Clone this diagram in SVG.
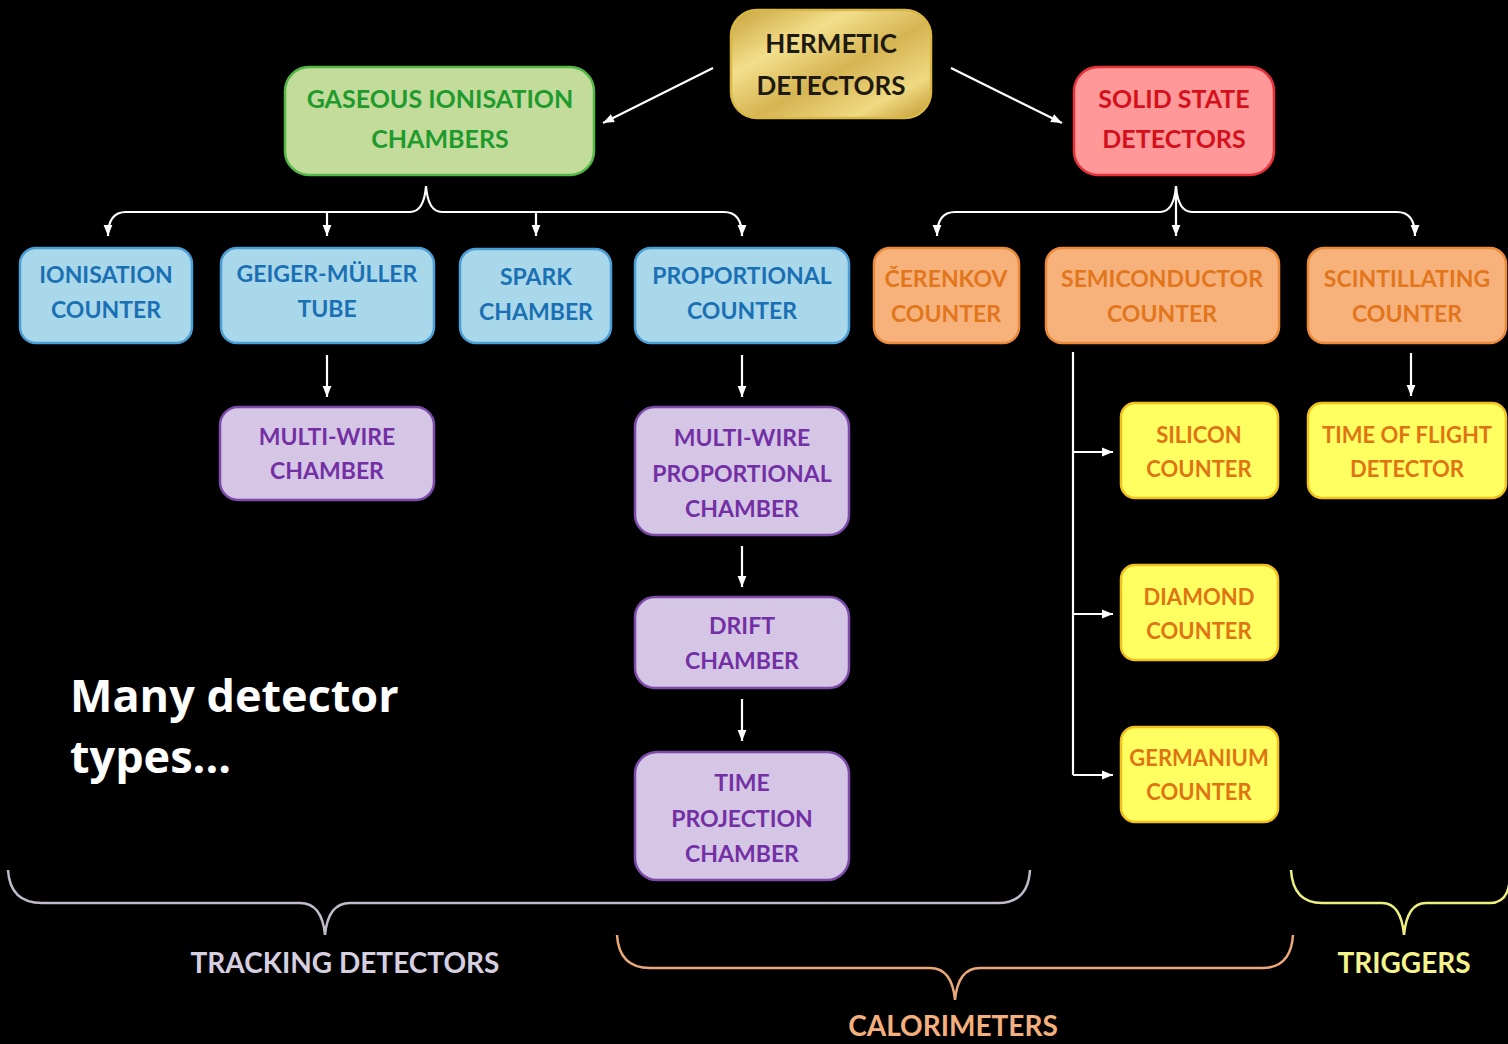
<svg xmlns="http://www.w3.org/2000/svg" width="1508" height="1044" viewBox="0 0 1508 1044">
  <defs>
    <linearGradient id="gold" x1="0" y1="0" x2="1" y2="1">
      <stop offset="0" stop-color="#c9a33c"/>
      <stop offset="0.3" stop-color="#f2df8c"/>
      <stop offset="0.55" stop-color="#d6b452"/>
      <stop offset="0.8" stop-color="#efd982"/>
      <stop offset="1" stop-color="#c29a30"/>
    </linearGradient>
    <marker id="arrow" viewBox="0 0 10 10" refX="10" refY="5" markerWidth="11" markerHeight="11" markerUnits="userSpaceOnUse" orient="auto-start-reverse">
      <path d="M0,1 L10,5 L0,9 z" fill="#ffffff"/>
    </marker>
    <style>
      .lbl { font-family: Lato, Carlito, "Liberation Sans", sans-serif; font-weight: bold; text-anchor: middle; }
      .box { stroke-width: 2.5; }
      .gold rect { fill: url(#gold); stroke: #d9b846; }
      .gold text { fill: #1e1a10; font-size: 26px; }
      .green rect { fill: #c3dc9c; stroke: #54b845; }
      .green text { fill: #1f9a2c; font-size: 25px; }
      .red rect { fill: #ff9898; stroke: #e8323a; }
      .red text { fill: #d3101c; font-size: 25px; }
      .blue rect { fill: #a9d8ea; stroke: #4c9fd6; }
      .blue text { fill: #1b70b4; font-size: 23px; }
      .orange rect { fill: #f7b27c; stroke: #ea8a3a; }
      .orange text { fill: #e2761c; font-size: 23px; }
      .purple rect { fill: #d6c6e6; stroke: #7c4aa8; }
      .purple text { fill: #7330a4; font-size: 23px; }
      .yellow rect { fill: #ffff62; stroke: #f3c11c; }
      .yellow text { fill: #df7413; font-size: 22px; }
      .conn { fill: none; stroke: #ffffff; stroke-width: 2.2; }
      .brace { fill: none; stroke-width: 2.5; }
      .group-lbl { font-family: Lato, Carlito, "Liberation Sans", sans-serif; font-weight: bold; text-anchor: middle; font-size: 28px; }
      .headline { font-family: "Open Sans", "Noto Sans", sans-serif; font-weight: bold; font-size: 45px; fill: #ffffff; }
    </style>
  </defs>

  <rect x="0" y="0" width="1508" height="1044" fill="#000000"/>

  <!-- Top level -->
  <g id="hermetic" class="gold lbl">
    <rect class="box" x="731" y="10" width="200" height="108" rx="26"/>
    <text x="831" y="53">HERMETIC</text>
    <text x="831" y="95">DETECTORS</text>
  </g>
  <g id="gaseous" class="green lbl">
    <rect class="box" x="285" y="67" width="309" height="108" rx="24"/>
    <text x="440" y="108">GASEOUS IONISATION</text>
    <text x="440" y="148">CHAMBERS</text>
  </g>
  <g id="solid-state" class="red lbl">
    <rect class="box" x="1074" y="67" width="200" height="108" rx="24"/>
    <text x="1174" y="108">SOLID STATE</text>
    <text x="1174" y="148">DETECTORS</text>
  </g>

  <!-- Gaseous chamber family -->
  <g id="ionisation-counter" class="blue lbl">
    <rect class="box" x="20" y="248" width="172" height="95" rx="16"/>
    <text x="106" y="283">IONISATION</text>
    <text x="106" y="318">COUNTER</text>
  </g>
  <g id="geiger-muller" class="blue lbl">
    <rect class="box" x="221" y="248" width="213" height="95" rx="16"/>
    <text x="327" y="282">GEIGER-MÜLLER</text>
    <text x="327" y="317">TUBE</text>
  </g>
  <g id="spark-chamber" class="blue lbl">
    <rect class="box" x="460" y="249" width="151" height="94" rx="16"/>
    <text x="536" y="285">SPARK</text>
    <text x="536" y="320">CHAMBER</text>
  </g>
  <g id="proportional-counter" class="blue lbl">
    <rect class="box" x="635" y="248" width="214" height="95" rx="16"/>
    <text x="742" y="284">PROPORTIONAL</text>
    <text x="742" y="319">COUNTER</text>
  </g>
  <g id="multi-wire" class="purple lbl">
    <rect class="box" x="220" y="407" width="214" height="93" rx="18"/>
    <text x="327" y="445">MULTI-WIRE</text>
    <text x="327" y="479">CHAMBER</text>
  </g>
  <g id="mwpc" class="purple lbl">
    <rect class="box" x="635" y="407" width="214" height="128" rx="20"/>
    <text x="742" y="446">MULTI-WIRE</text>
    <text x="742" y="482">PROPORTIONAL</text>
    <text x="742" y="517">CHAMBER</text>
  </g>
  <g id="drift-chamber" class="purple lbl">
    <rect class="box" x="635" y="597" width="214" height="91" rx="20"/>
    <text x="742" y="634">DRIFT</text>
    <text x="742" y="669">CHAMBER</text>
  </g>
  <g id="tpc" class="purple lbl">
    <rect class="box" x="635" y="752" width="214" height="128" rx="22"/>
    <text x="742" y="791">TIME</text>
    <text x="742" y="827">PROJECTION</text>
    <text x="742" y="862">CHAMBER</text>
  </g>

  <!-- Solid state family -->
  <g id="cerenkov" class="orange lbl">
    <rect class="box" x="874" y="248" width="145" height="95" rx="16"/>
    <text x="946" y="287">ČERENKOV</text>
    <text x="946" y="322">COUNTER</text>
  </g>
  <g id="semiconductor" class="orange lbl">
    <rect class="box" x="1046" y="248" width="233" height="95" rx="16"/>
    <text x="1162" y="287">SEMICONDUCTOR</text>
    <text x="1162" y="322">COUNTER</text>
  </g>
  <g id="scintillating" class="orange lbl">
    <rect class="box" x="1308" y="248" width="198" height="95" rx="16"/>
    <text x="1407" y="287">SCINTILLATING</text>
    <text x="1407" y="322">COUNTER</text>
  </g>
  <g id="silicon" class="yellow lbl">
    <rect class="box" x="1121" y="403" width="157" height="95" rx="14"/>
    <text x="1199" y="443">SILICON</text>
    <text x="1199" y="477">COUNTER</text>
  </g>
  <g id="time-of-flight" class="yellow lbl">
    <rect class="box" x="1308" y="403" width="198" height="95" rx="14"/>
    <text x="1407" y="443">TIME OF FLIGHT</text>
    <text x="1407" y="477">DETECTOR</text>
  </g>
  <g id="diamond" class="yellow lbl">
    <rect class="box" x="1121" y="565" width="157" height="95" rx="14"/>
    <text x="1199" y="605">DIAMOND</text>
    <text x="1199" y="639">COUNTER</text>
  </g>
  <g id="germanium" class="yellow lbl">
    <rect class="box" x="1121" y="727" width="157" height="95" rx="14"/>
    <text x="1199" y="766">GERMANIUM</text>
    <text x="1199" y="800">COUNTER</text>
  </g>

  <!-- Connectors -->
  <g id="connectors">
    <path class="conn" d="M713,68 L603,123" marker-end="url(#arrow)"/>
    <path class="conn" d="M951,68 L1062,123" marker-end="url(#arrow)"/>
    <!-- split under the gaseous chambers -->
    <path class="conn" d="M108,236 Q108,212 126,212 L410,212 Q424,212 426,186 Q428,212 442,212 L724,212 Q742,212 742,236" marker-start="url(#arrow)" marker-end="url(#arrow)"/>
    <path class="conn" d="M327,212 L327,236" marker-end="url(#arrow)"/>
    <path class="conn" d="M536,212 L536,236" marker-end="url(#arrow)"/>
    <!-- split under the solid state detectors -->
    <path class="conn" d="M937,236 Q937,212 955,212 L1160,212 Q1174,212 1176,186 Q1178,212 1192,212 L1397,212 Q1415,212 1415,236" marker-start="url(#arrow)" marker-end="url(#arrow)"/>
    <path class="conn" d="M1176,186 L1176,236" marker-end="url(#arrow)"/>
    <!-- vertical chains -->
    <path class="conn" d="M327,355 L327,397" marker-end="url(#arrow)"/>
    <path class="conn" d="M742,355 L742,397" marker-end="url(#arrow)"/>
    <path class="conn" d="M742,546 L742,587" marker-end="url(#arrow)"/>
    <path class="conn" d="M742,699 L742,741" marker-end="url(#arrow)"/>
    <path class="conn" d="M1411,353 L1411,396" marker-end="url(#arrow)"/>
    <!-- semiconductor branches -->
    <path class="conn" d="M1073,352 L1073,775"/>
    <path class="conn" d="M1073,452 L1113,452" marker-end="url(#arrow)"/>
    <path class="conn" d="M1073,614 L1113,614" marker-end="url(#arrow)"/>
    <path class="conn" d="M1073,775 L1113,775" marker-end="url(#arrow)"/>
  </g>

  <!-- Category braces -->
  <g id="tracking-brace">
    <path class="brace" stroke="#c2bacb" d="M8,870 Q10,903 42,903 L300,903 Q322,903 325,935 Q328,903 350,903 L998,903 Q1028,903 1030,870"/>
    <text class="group-lbl" x="345" y="973" fill="#d6cfe0">TRACKING DETECTORS</text>
  </g>
  <g id="calorimeter-brace">
    <path class="brace" stroke="#eaa878" d="M617,935 Q619,968 650,968 L930,968 Q952,968 955,1000 Q958,968 980,968 L1262,968 Q1291,968 1293,935"/>
    <text class="group-lbl" x="953" y="1036" fill="#f3b07c">CALORIMETERS</text>
  </g>
  <g id="trigger-brace">
    <path class="brace" stroke="#eef07e" d="M1291,870 Q1293,903 1322,903 L1382,903 Q1401,903 1404,935 Q1407,903 1426,903 L1490,903 Q1506,903 1509,885"/>
    <text class="group-lbl" x="1404" y="973" fill="#f5f48c">TRIGGERS</text>
  </g>

  <text class="headline" x="70" y="712">Many detector</text>
  <text class="headline" x="70" y="773">types...</text>
</svg>
